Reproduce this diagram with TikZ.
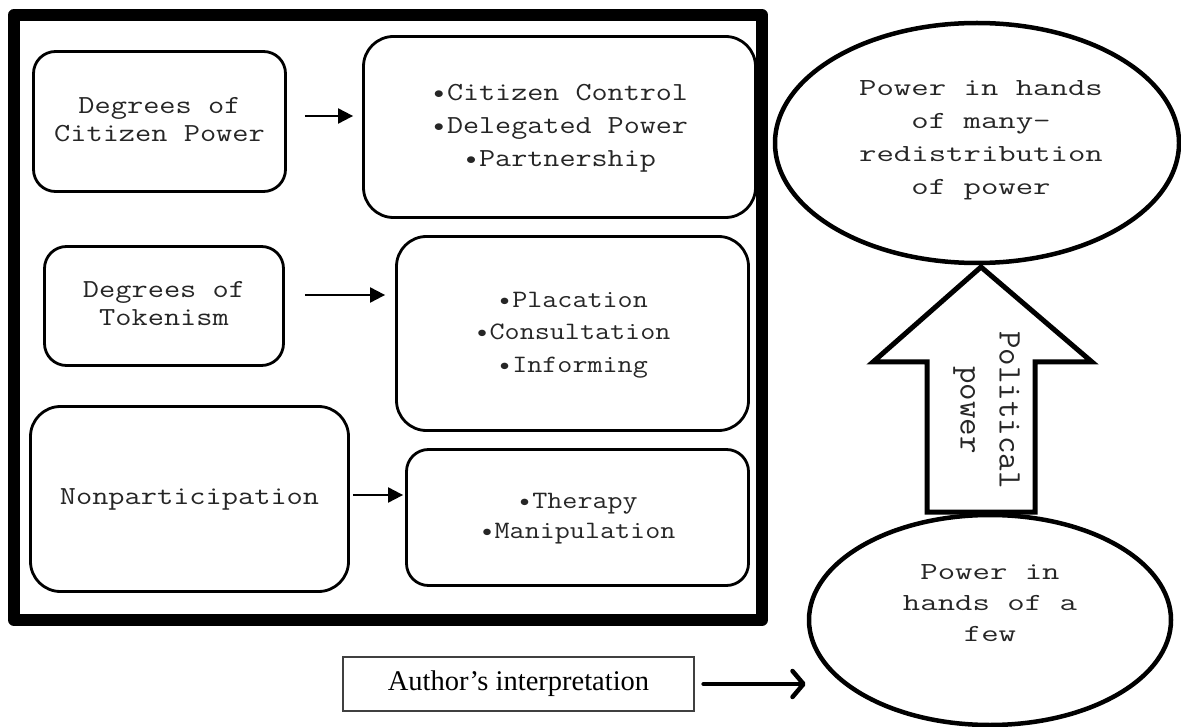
\documentclass[tikz,border=0pt]{standalone}
\usepackage{fontspec}
\usepackage{graphicx}
\setmainfont{Liberation Serif}
\usetikzlibrary{arrows.meta,shapes.geometric}

% horizontally stretched, centred block of lines
\newcommand\widetext[2]{\scalebox{#1}[1]{\begin{tabular}{@{}c@{}}#2\end{tabular}}}
\newcommand\bul{\textbullet}

\begin{document}
\begin{tikzpicture}[x=1pt,y=-1pt,
  box/.style={draw=black, line width=2.8pt, rounded corners=22pt, inner sep=0pt, fill=white, text=black!85},
  listbox/.style={box, rounded corners=30pt},
  frame/.style={line width=12pt, line join=round},
  flow/.style={line width=2pt, -{Triangle[length=15pt,width=15pt]}},
  ell/.style={ellipse, draw=black, line width=4.5pt, inner sep=0pt},
  bigarrow/.style={draw=black, line width=5pt, line join=miter, fill=white},
  lbl/.style={text=black!85},
]
\useasboundingbox (0,0) rectangle (1181,727);

% ladder levels
\node[box, minimum width=252pt, minimum height=140pt, font=\ttfamily\fontsize{26}{28}\selectfont]
  (cp) at (159.5,121.5) {\widetext{1.21}{Degrees of\\Citizen Power}};
\node[listbox, minimum width=392pt, minimum height=181pt, font=\ttfamily\fontsize{26}{33}\selectfont]
  (cpl) at (559.5,127) {\widetext{1.2}{\bul Citizen Control\\\bul Delegated Power\\\bul Partnership\\}};

\node[box, minimum width=239pt, minimum height=119pt, font=\ttfamily\fontsize{26}{28}\selectfont]
  (tk) at (164,306) {\widetext{1.21}{Degrees of\\Tokenism}};
\node[listbox, minimum width=352pt, minimum height=194pt, font=\ttfamily\fontsize{25}{32.5}\selectfont]
  (tkl) at (572.5,333.5) {\widetext{1.17}{\bul Placation\\\bul Consultation\\\bul Informing}};

\node[box, rounded corners=30pt, minimum width=318pt, minimum height=185pt, font=\ttfamily\fontsize{26}{28}\selectfont]
  (np) at (189.5,499) {\widetext{1.21}{Nonparticipation}};
\node[box, minimum width=342pt, minimum height=136pt, font=\ttfamily\fontsize{25}{30}\selectfont]
  (npl) at (577.5,517.5) {\widetext{1.17}{\bul Therapy\\\bul Manipulation}};

% outer frame
\draw[frame] (14,15) rectangle (762,620);

% level arrows
\draw[flow, shorten <=18pt, shorten >=9pt] ([yshift=5.5pt]cp.east) -- ([yshift=5.5pt]cp.east -| cpl.west);
\draw[flow, shorten <=20pt, shorten >=10pt] ([yshift=11pt]tk.east) -- ([yshift=11pt]tk.east -| tkl.west);
\draw[flow, shorten <=3pt, shorten >=2pt] ([yshift=4pt]np.east) -- ([yshift=4pt]np.east -| npl.west);

% power ellipses
\node[ell, minimum width=404pt, minimum height=240pt] (many) at (977,143) {};
\node[lbl, font=\ttfamily\fontsize{24.5}{33}\selectfont] (manytext) at (981,138)
  {\widetext{1.38}{Power in hands\\of many-\\redistribution\\of power}};

\node[ell, minimum width=362pt, minimum height=210pt] (few) at (990,620) {};
\node[lbl, font=\ttfamily\fontsize{24.5}{31}\selectfont] (fewtext) at (990,604)
  {\widetext{1.38}{Power in\\hands of a\\few}};

% political power arrow
\draw[bigarrow] (981,267) -- (1092,362) -- (1035,362) -- (1035,512) -- (927,512)
  -- (927,362) -- (873,362) -- cycle;
\node[lbl, rotate=-90, font=\ttfamily\fontsize{33}{39}\selectfont] (pp) at (988,410)
  {\widetext{1.03}{Political\\power}};

% author's note
\node[draw=black!75, line width=1.2pt, minimum width=351pt, minimum height=54pt, inner sep=0pt,
  font=\fontsize{28.5}{30}\selectfont] (author) at (518.5,684) {Author’s interpretation};
\draw[line width=4.5pt, line cap=round, shorten <=9pt, shorten >=1pt,
  -{Straight Barb[length=11pt,width=26pt,line cap=round,line join=round]}]
  (author.east) -- (few.west |- author.east);
\end{tikzpicture}
\end{document}
